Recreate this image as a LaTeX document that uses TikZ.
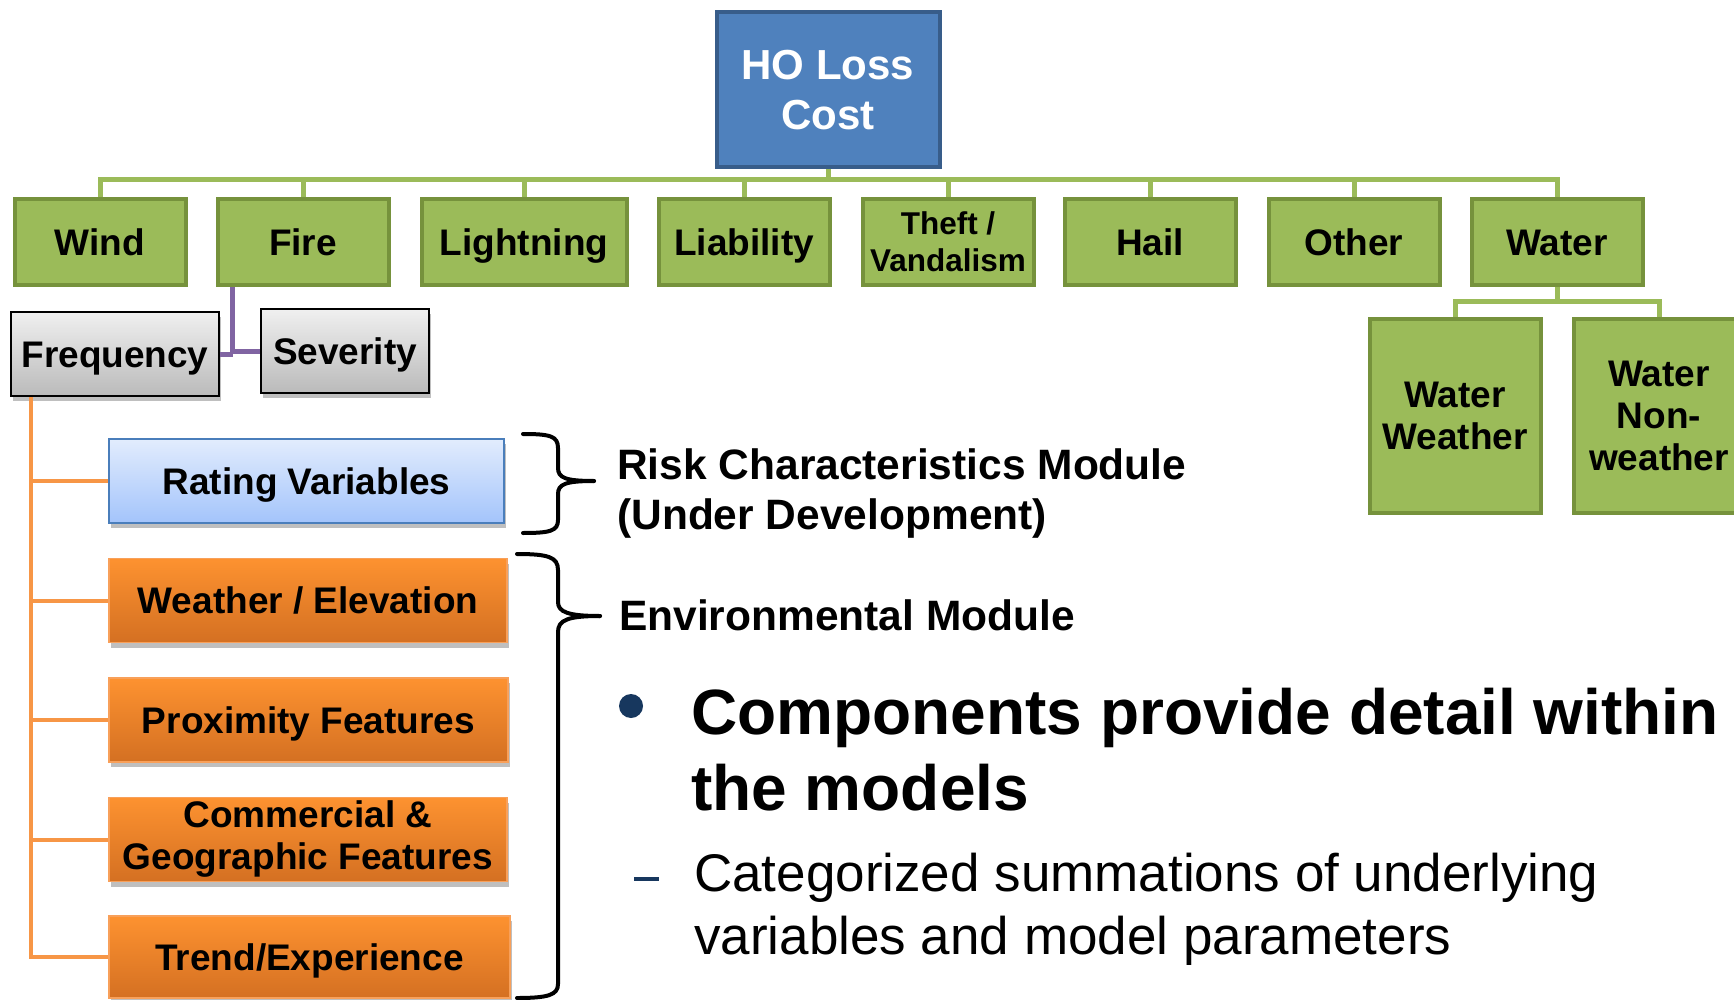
\documentclass[tikz,border=0pt]{standalone}
\usepackage{fontspec}
\setmainfont{Liberation Sans}
\usetikzlibrary{shadows}
\definecolor{gfill}{HTML}{9BBB59}
\definecolor{gdraw}{HTML}{76923C}
\definecolor{glinec}{HTML}{9BBB59}
\definecolor{bfill}{HTML}{4F81BD}
\definecolor{bdraw}{HTML}{385D8A}
\definecolor{otop}{RGB}{253,146,48}
\definecolor{obot}{RGB}{212,112,34}
\definecolor{oedge}{RGB}{248,160,90}
\definecolor{olinec}{HTML}{F79646}
\definecolor{plinec}{HTML}{8064A2}
\definecolor{navy}{HTML}{17375E}
\definecolor{rvtop}{RGB}{226,236,253}
\definecolor{rvbot}{RGB}{163,196,251}
\definecolor{rvedge}{RGB}{74,126,187}
\newcommand\boxfont{\fontsize{37}{42}\selectfont\bfseries}
\begin{document}
\begin{tikzpicture}[x=1pt,y=-1pt,
  oneline/.style={text height=26.5pt, text depth=0pt},
  gbox/.style={draw=gdraw, line width=4pt, fill=gfill, inner sep=0pt, minimum width=171pt, minimum height=86pt, align=center, font=\boxfont},
  shad/.style={drop shadow={shadow xshift=2pt, shadow yshift=-5pt, opacity=0.25, fill=black}},
  obox/.style={shad, draw=oedge, line width=1.5pt, top color=otop, bottom color=obot, inner sep=0pt, minimum height=84pt, align=center, font=\boxfont},
  graybox/.style={shad, draw=black, line width=2pt, top color=black!6, bottom color=black!27, inner sep=0pt, minimum height=84pt, align=center, font=\boxfont},
  gline/.style={draw=glinec, line width=5pt},
  oline/.style={draw=olinec, line width=4pt},
  pline/.style={draw=plinec, line width=5pt},
  brace/.style={draw=black, line width=4pt, line cap=round},
  modtxt/.style={inner sep=0pt, font=\fontsize{42.5}{50}\selectfont\bfseries},
  bigtxt/.style={inner sep=0pt, font=\fontsize{64}{76}\selectfont\bfseries},
  subtxt/.style={inner sep=0pt, font=\fontsize{53}{63}\selectfont},
]
\clip (0,0) rectangle (1734,1000);
\fill[white] (0,0) rectangle (1734,1000);

% top node
\node[draw=bdraw, line width=4pt, fill=bfill, inner sep=0pt, minimum width=223pt, minimum height=155pt, align=center, text=white, font=\fontsize{42}{50}\selectfont\bfseries] (ho) at (828,90) {HO Loss\\Cost};

% perils
\node[gbox, oneline] (wind) at (100,242) {Wind};
\node[gbox, oneline] (fire) at (303,242) {Fire};
\node[gbox, oneline, minimum width=205pt] (light) at (524,242) {Lightning};
\node[gbox, oneline] (liab) at (744,242) {Liability};
\node[gbox, font=\fontsize{31.5}{37}\selectfont\bfseries] (theft) at (948,242) {Theft /\\Vandalism};
\node[gbox, oneline] (hail) at (1150,242) {Hail};
\node[gbox, oneline] (other) at (1354,242) {Other};
\node[gbox, oneline] (water) at (1557,242) {Water};

\foreach \n in {wind,fire,light,liab,theft,hail,other,water}
  \draw[gline] (ho.south) |- ([yshift=17pt]\n.north) -- (\n.north);

% water sub-perils
\node[gbox, minimum height=194pt] (ww) at (1455,416) {Water\\Weather};
\node[gbox, minimum height=194pt] (wnw) at (1659,416) {Water\\Non-\\weather};
\draw[gline] (water.south) |- ([yshift=16pt]ww.north) -- (ww.north);
\draw[gline] (water.south) |- ([yshift=16pt]wnw.north) -- (wnw.north);

% frequency / severity
\node[graybox, oneline, minimum width=208pt] (freq) at (115,354) {Frequency};
\node[graybox, oneline, minimum width=168pt] (sev) at (345,351) {Severity};
\draw[pline] ([xshift=17pt]fire.south west) |- (sev.west);
\draw[pline] (freq.east) -- ([xshift=17pt]fire.south west |- freq.east);

% components
\node[shad, oneline, draw=rvedge, line width=2.5pt, top color=rvtop, bottom color=rvbot, inner sep=0pt, minimum width=395pt, minimum height=84pt, font=\boxfont] (rv) at (306.5,481) {Rating Variables};
\node[obox, oneline, minimum width=398pt] (we) at (308,600.5) {Weather / Elevation};
\node[obox, oneline, minimum width=399pt] (pf) at (308.5,720) {Proximity Features};
\node[obox, minimum width=398pt] (cg) at (308,839.5) {Commercial \&\\Geographic Features};
\node[obox, oneline, minimum width=401pt, minimum height=82pt] (tr) at (309.5,957) {Trend/Experience};

\coordinate (trunk) at ([xshift=21pt]freq.south west);
\draw[oline] (trunk) |- (tr.west);
\foreach \n in {rv,we,pf,cg}
  \draw[oline] (trunk |- \n.west) -- (\n.west);

% braces
\draw[brace] (523,434) .. controls (550,434) and (558,436) .. (558,448) -- (558,468)
  .. controls (558,478) and (566,481) .. (594,481);
\draw[brace] (594,481) .. controls (566,481) and (558,484) .. (558,494) -- (558,520)
  .. controls (558,531) and (550,533) .. (523,533);
\draw[brace] (517,554) .. controls (548,554) and (558,557) .. (558,570) -- (558,602)
  .. controls (558,612) and (568,616) .. (600,616);
\draw[brace] (600,616) .. controls (568,616) and (558,620) .. (558,632) -- (558,984)
  .. controls (558,995) and (548,998) .. (517,998);

% texts
\node[modtxt, anchor=base west] (rcm1) at (617,479) {Risk Characteristics Module};
\node[modtxt, anchor=base west] (rcm2) at (617,529) {(Under Development)};
\node[modtxt, anchor=base west] (env) at (619,630) {Environmental Module};

\node[circle, fill=navy, minimum size=24pt, inner sep=0pt] (bul) at (631,706) {};
\node[bigtxt, anchor=base west] (c1) at (691,734) {Components provide detail within};
\node[bigtxt, anchor=base west] (c2) at (691,810) {the models};

\node[fill=navy, minimum width=25pt, minimum height=3.5pt, inner sep=0pt] (dash) at (646,879) {};
\node[subtxt, anchor=base west] (s1) at (694,891) {Categorized summations of underlying};
\node[subtxt, anchor=base west] (s2) at (694,954) {variables and model parameters};
\end{tikzpicture}
\end{document}
